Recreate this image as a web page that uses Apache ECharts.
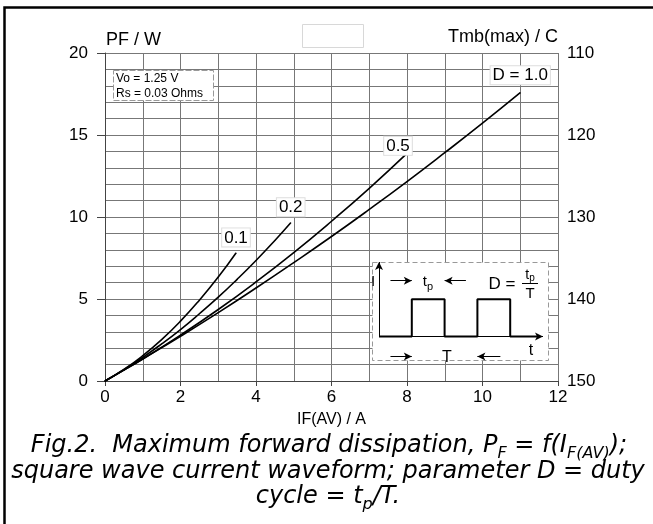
<!DOCTYPE html>
<html>
<head>
<meta charset="utf-8">
<script src="https://cdn.jsdelivr.net/npm/echarts@6/dist/echarts.min.js"></script>
<style>
html,body{margin:0;padding:0;background:#fff;}
#chart{width:653px;height:524px;}
</style>
</head>
<body>
<div id="chart"></div>
<script>
// ---- data ----
const currentD01 = [0, 0.5, 1, 1.5, 2, 2.5, 3, 3.47];
const powerD01   = [0, 0.70, 1.54, 2.52, 3.65, 4.93, 6.34, 7.81];
const currentD02 = [0, 0.5, 1, 1.5, 2, 2.5, 3, 3.5, 4, 4.5, 4.92];
const powerD02   = [0, 0.69, 1.44, 2.26, 3.14, 4.10, 5.11, 6.20, 7.35, 8.57, 9.65];
const currentD05 = [0, 0.5, 1, 2, 3, 4, 5, 6, 7, 8];
const powerD05   = [0, 0.66, 1.34, 2.80, 4.36, 6.04, 7.83, 9.74, 11.75, 13.88];
const currentD10 = [0, 0.5, 1, 2, 3, 4, 5, 6, 7, 8, 9, 10, 11];
const powerD10   = [0, 0.66, 1.34, 2.73, 4.17, 5.67, 7.22, 8.81, 10.46, 12.16, 13.92, 15.72, 17.58];
const curveLabels = ['0.1', '0.2', '0.5', 'D = 1.0'];
const rightTickLabels = ['110', '120', '130', '140', '150'];
// inset square-wave sketch (schematic units)
const waveT = [0, 2, 2, 4, 4, 6, 6, 8, 8, 9.7];
const waveI = [0, 0, 1, 1, 0, 0, 1, 1, 0, 0];

const chart = echarts.init(document.getElementById('chart'), null, {renderer: 'canvas'});
const FONT = 'Liberation Sans';
const GRID_C = '#777';

function curve(xs, ys, label, extra) {
  const data = xs.map((x, i) => {
    const it = {value: [x, ys[i]]};
    if (i === xs.length - 1) {
      it.label = Object.assign({
        show: true, position: 'top', formatter: label,
        fontFamily: FONT, fontSize: 17, color: '#000',
        backgroundColor: '#fff', borderColor: '#ddd', borderWidth: 1,
        padding: [1, 2, 0, 2]
      }, extra);
    }
    return it;
  });
  return {
    type: 'line', xAxisIndex: 0, yAxisIndex: 0, data: data,
    smooth: true, symbol: 'circle', symbolSize: 1, showSymbol: true,
    itemStyle: {color: '#000'}, lineStyle: {color: '#000', width: 1.6},
    emphasis: {disabled: true}, silent: true, z: 3
  };
}

const arrowLines = [
  [{coord: [0, 0]}, {coord: [10, 0]}],
  [{coord: [0, 0]}, {coord: [0, 2]}],
  [{coord: [0.7, 1.5]}, {coord: [2, 1.5]}],
  [{coord: [5.3, 1.5]}, {coord: [4, 1.5]}],
  [{coord: [0.7, -0.53]}, {coord: [2, -0.53]}],
  [{coord: [7.4, -0.53]}, {coord: [6, -0.53]}]
];

const option = {
  animation: false,
  grid: [
    {left: 105, top: 53, width: 453, height: 328},
    {left: 379, top: 262, width: 164, height: 97}
  ],
  xAxis: [
    {
      gridIndex: 0, type: 'value', min: 0, max: 12, interval: 2,
      name: 'IF(AV) / A', nameLocation: 'middle', nameGap: 31,
      nameTextStyle: {fontFamily: FONT, fontSize: 16, color: '#000'},
      axisLine: {show: true, onZero: false, lineStyle: {color: '#444', width: 1}},
      axisTick: {show: true, length: 5, lineStyle: {color: '#444'}},
      axisLabel: {fontFamily: FONT, fontSize: 17, color: '#000', margin: 8},
      splitLine: {show: true, lineStyle: {color: GRID_C, width: 1}},
      minorTick: {show: false, splitNumber: 2},
      minorSplitLine: {show: true, lineStyle: {color: GRID_C, width: 1}}
    },
    {
      gridIndex: 1, type: 'value', min: 0, max: 10,
      axisLine: {show: false}, axisTick: {show: false}, axisLabel: {show: false},
      splitLine: {show: false}
    }
  ],
  yAxis: [
    {
      gridIndex: 0, type: 'value', min: 0, max: 20, interval: 5,
      axisLine: {show: true, onZero: false, lineStyle: {color: '#444', width: 1}},
      axisTick: {show: true, length: 8, lineStyle: {color: '#444'}},
      axisLabel: {fontFamily: FONT, fontSize: 17, color: '#000', margin: 17},
      splitLine: {show: true, lineStyle: {color: GRID_C, width: 1}},
      minorTick: {show: false, splitNumber: 5},
      minorSplitLine: {show: true, lineStyle: {color: GRID_C, width: 1}}
    },
    {
      gridIndex: 0, type: 'value', position: 'right', min: 110, max: 150, interval: 10,
      inverse: true,
      axisLine: {show: false}, axisTick: {show: false}, splitLine: {show: false},
      axisLabel: {fontFamily: FONT, fontSize: 17, color: '#000', margin: 9,
        formatter: v => rightTickLabels[Math.round((v - 110) / 10)]}
    },
    {
      gridIndex: 1, type: 'value', min: -0.6, max: 2,
      axisLine: {show: false}, axisTick: {show: false}, axisLabel: {show: false},
      splitLine: {show: false}
    }
  ],
  series: [
    curve(currentD01, powerD01, curveLabels[0], {distance: 6}),
    curve(currentD02, powerD02, curveLabels[1], {distance: 6}),
    curve(currentD05, powerD05, curveLabels[2], {distance: -2, offset: [-9, 0]}),
    curve(currentD10, powerD10, curveLabels[3], {distance: 8}),
    {
      type: 'line', xAxisIndex: 1, yAxisIndex: 2,
      data: waveT.map((t, i) => [t, waveI[i]]),
      symbol: 'none', lineStyle: {color: '#000', width: 2},
      emphasis: {disabled: true}, silent: true, clip: false, z: 4,
      markLine: {
        silent: true, symbol: ['none', 'arrow'], symbolSize: [6, 8], precision: 3,
        label: {show: false}, emphasis: {disabled: true},
        lineStyle: {color: '#000', width: 1, type: 'solid'},
        data: arrowLines
      }
    }
  ],
  graphic: [
    {type: 'polyline', z: 20, shape: {points: [[4.5, 524], [4.5, 7.5], [653, 7.5]]},
     style: {stroke: '#000', lineWidth: 2.5, fill: null}},
    {type: 'rect', z: 1, shape: {x: 302.5, y: 24.5, width: 61, height: 23},
     style: {fill: '#fff', stroke: '#d8d8d8', lineWidth: 1}},
    {type: 'text', z: 5, x: 106, y: 40,
     style: {text: 'PF / W', font: '18px "Liberation Sans"', fill: '#000', align: 'left', verticalAlign: 'middle'}},
    {type: 'text', z: 5, x: 558, y: 37,
     style: {text: 'Tmb(max) / C', font: '18px "Liberation Sans"', fill: '#000', align: 'right', verticalAlign: 'middle'}},
    {type: 'rect', z: 6, shape: {x: 113.5, y: 70.5, width: 100, height: 30},
     style: {fill: '#fff', stroke: '#999', lineWidth: 1, lineDash: [6, 2]}},
    {type: 'text', z: 7, x: 116, y: 79,
     style: {text: 'Vo = 1.25 V', font: '12px "Liberation Sans"', fill: '#000', align: 'left', verticalAlign: 'middle'}},
    {type: 'text', z: 7, x: 116, y: 94,
     style: {text: 'Rs = 0.03 Ohms', font: '12px "Liberation Sans"', fill: '#000', align: 'left', verticalAlign: 'middle'}},
    {type: 'rect', z: 1, shape: {x: 372.5, y: 262.5, width: 176, height: 98},
     style: {fill: '#fff', stroke: '#999', lineWidth: 1, lineDash: [5, 3]}},
    {type: 'text', z: 7, x: 373, y: 282,
     style: {text: 'I', font: '15px "Liberation Sans"', fill: '#000', align: 'center', verticalAlign: 'middle'}},
    {type: 'text', z: 7, x: 428, y: 282,
     style: {text: '{a|t}{b|p}', align: 'center', verticalAlign: 'middle',
       rich: {a: {fontFamily: FONT, fontSize: 15, fill: '#000', lineHeight: 20, verticalAlign: 'middle'},
              b: {fontFamily: FONT, fontSize: 11, fill: '#000', lineHeight: 20, verticalAlign: 'bottom'}}}},
    {type: 'text', z: 7, x: 502, y: 284,
     style: {text: 'D =', font: '17px "Liberation Sans"', fill: '#000', align: 'center', verticalAlign: 'middle'}},
    {type: 'text', z: 7, x: 530, y: 275,
     style: {text: '{a|t}{b|p}', align: 'center', verticalAlign: 'middle',
       rich: {a: {fontFamily: FONT, fontSize: 14, fill: '#000', lineHeight: 16, verticalAlign: 'middle'},
              b: {fontFamily: FONT, fontSize: 10, fill: '#000', lineHeight: 16, verticalAlign: 'bottom'}}}},
    {type: 'line', z: 7, shape: {x1: 522, y1: 283.5, x2: 538, y2: 283.5},
     style: {stroke: '#000', lineWidth: 1}},
    {type: 'text', z: 7, x: 530, y: 294,
     style: {text: 'T', font: '15px "Liberation Sans"', fill: '#000', align: 'center', verticalAlign: 'middle'}},
    {type: 'text', z: 7, x: 531, y: 351,
     style: {text: 't', font: '16px "Liberation Sans"', fill: '#000', align: 'center', verticalAlign: 'middle'}},
    {type: 'text', z: 7, x: 447, y: 358,
     style: {text: 'T', font: '16px "Liberation Sans"', fill: '#000', align: 'center', verticalAlign: 'middle'}},
    {type: 'text', z: 7, x: 329, y: 446,
     style: {text: '{n|Fig.2.  Maximum forward dissipation, P}{s|F}{n| = f(I}{s|F(AV)}{n|);}',
       align: 'center', verticalAlign: 'middle',
       rich: {n: {fontFamily: 'DejaVu Sans', fontStyle: 'italic', fontSize: 24, fill: '#000', lineHeight: 32, verticalAlign: 'middle'},
              s: {fontFamily: 'DejaVu Sans', fontStyle: 'italic', fontSize: 16, fill: '#000', lineHeight: 32, verticalAlign: 'bottom'}}}},
    {type: 'text', z: 7, x: 328, y: 472,
     style: {text: 'square wave current waveform; parameter D = duty',
       font: 'italic 24px "DejaVu Sans"', fill: '#000', align: 'center', verticalAlign: 'middle'}},
    {type: 'text', z: 7, x: 328, y: 497,
     style: {text: '{n|cycle = t}{s|p}{n|/T.}',
       align: 'center', verticalAlign: 'middle',
       rich: {n: {fontFamily: 'DejaVu Sans', fontStyle: 'italic', fontSize: 24, fill: '#000', lineHeight: 32, verticalAlign: 'middle'},
              s: {fontFamily: 'DejaVu Sans', fontStyle: 'italic', fontSize: 16, fill: '#000', lineHeight: 32, verticalAlign: 'bottom'}}}}
  ]
};
chart.setOption(option);
</script>
</body>
</html>
